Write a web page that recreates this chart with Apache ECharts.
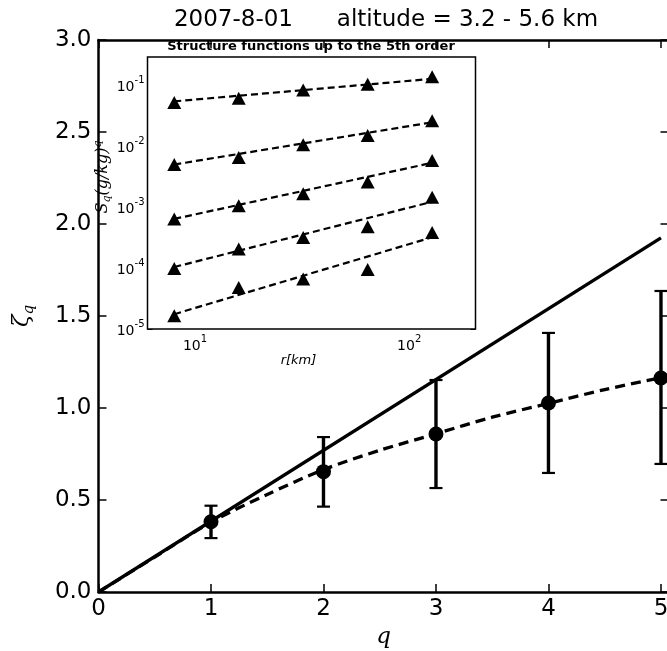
<!DOCTYPE html>
<html><head><meta charset="utf-8">
<script src="https://cdn.jsdelivr.net/npm/echarts@6/dist/echarts.min.js"></script>
<style>html,body{margin:0;padding:0;background:#fff}#c{width:667px;height:651px}</style>
</head><body><div id="c"></div>
<script>
// ---- main panel data ----
const qValues   = [1, 2, 3, 4, 5];
const zetaMean  = [0.382, 0.654, 0.859, 1.027, 1.163];
const zetaLow   = [0.293, 0.464, 0.565, 0.647, 0.696];
const zetaHigh  = [0.469, 0.842, 1.152, 1.408, 1.636];
const linearQ   = [0, 5];
const linearZeta = [0, 1.925];
const modelQ    = [0, 0.5, 1, 1.5, 2, 2.5, 3, 3.5, 4, 4.5, 5];
const modelZeta = [0, 0.19, 0.38, 0.53, 0.665, 0.77, 0.86, 0.95, 1.025, 1.10, 1.165];
const mainXTicks = [0, 1, 2, 3, 4, 5];
const mainYTicks = [0, 0.5, 1.0, 1.5, 2.0, 2.5, 3.0];

// ---- inset data ----
const rKm = [8, 16, 32, 64, 128];
const S1 = [0.052, 0.061, 0.083, 0.104, 0.137];
const S2 = [0.0050, 0.0065, 0.0105, 0.0149, 0.0262];
const S3 = [0.00064, 0.00105, 0.00165, 0.00257, 0.00584];
const S4 = [0.000098, 0.000206, 0.000316, 0.000478, 0.00145];
const S5 = [0.0000165, 0.0000481, 0.0000660, 0.0000950, 0.000382];
const fitR = [8, 128];
const fit1 = [0.0543, 0.127];
const fit2 = [0.0050, 0.0246];
const fit3 = [0.00064, 0.00532];
const fit4 = [0.000104, 0.00122];
const fit5 = [0.0000175, 0.00032];
const insetXMajor = [10, 100];
const insetXMinor = [7, 8, 9, 20, 30, 40, 50, 60, 70, 80, 90, 200];
const insetYMajor = [1e-5, 1e-4, 1e-3, 1e-2, 1e-1];
const insetYMinor = [];
[-5, -4, -3, -2, -1].forEach(e => { for (let m = 2; m <= 9; m++) insetYMinor.push(+(m * Math.pow(10, e)).toPrecision(3)); });

const FONT = 'DejaVu Sans';
const SERIF = 'DejaVu Serif';
const supRich = {
  b: {fontSize: 14, fontFamily: FONT, color: '#000', lineHeight: 19, verticalAlign: 'bottom'},
  s: {fontSize: 10, fontFamily: FONT, color: '#000', lineHeight: 10, verticalAlign: 'top'}
};
const powLabel = v => { const e = Math.round(Math.log10(v)); return '{b|10}{s|' + e + '}'; };

const chart = echarts.init(document.getElementById('c'), null, {renderer: 'canvas'});

function mainAxisCommon() {
  return {
    axisLine: {show: true, onZero: false, lineStyle: {color: '#000', width: 2.5}},
    axisTick: {show: true, inside: true, length: 8, lineStyle: {color: '#000', width: 1.5}},
    splitLine: {show: false}
  };
}
function insetAxis(type, pos, isMajor, labels, extra) {
  const ax = Object.assign({
    type: 'log', gridIndex: 1, position: pos,
    axisLine: {show: false},
    axisTick: {show: true, inside: true, length: isMajor ? 5 : 2.5,
      customValues: isMajor ? (type === 'x' ? insetXMajor : insetYMajor) : (type === 'x' ? insetXMinor : insetYMinor),
      lineStyle: {color: '#000', width: 1}},
    axisLabel: {show: false},
    splitLine: {show: false}
  }, extra);
  if (labels) {
    ax.axisLabel = {show: true, customValues: type === 'x' ? insetXMajor : insetYMajor,
      formatter: powLabel, rich: supRich, margin: type === 'x' ? 5 : 3};
  }
  return ax;
}
const xr = {min: 6, max: 204};
const yr = {min: 1e-5, max: 0.29};

const zip = (a, b) => a.map((v, i) => [v, b[i]]);
const Sall = [S1, S2, S3, S4, S5];
const fits = [fit1, fit2, fit3, fit4, fit5];

const series = [
  {type: 'line', name: 'linear', data: zip(linearQ, linearZeta), xAxisIndex: 0, yAxisIndex: 0,
   symbol: 'none', lineStyle: {color: '#000', width: 3.3}, z: 3},
  {type: 'line', name: 'model', data: zip(modelQ, modelZeta), xAxisIndex: 0, yAxisIndex: 0, smooth: 0.3,
   symbol: 'none', lineStyle: {color: '#000', width: 3.3, type: [10, 6]}, z: 3},
  {type: 'custom', name: 'err', xAxisIndex: 0, yAxisIndex: 0, clip: false, z: 4,
   data: qValues.map((q, i) => [q, zetaLow[i], zetaHigh[i]]),
   encode: {x: 0, y: [1, 2]},
   renderItem: (params, api) => {
     const x = api.value(0);
     const pLo = api.coord([x, api.value(1)]);
     const pHi = api.coord([x, api.value(2)]);
     const hw = 6.5;
     const cap = {stroke: '#000', lineWidth: 2.2};
     return {type: 'group', children: [
       {type: 'line', shape: {x1: pLo[0], y1: pLo[1], x2: pHi[0], y2: pHi[1]}, style: {stroke: '#000', lineWidth: 3.4}},
       {type: 'line', shape: {x1: pLo[0] - hw, y1: pLo[1], x2: pLo[0] + hw, y2: pLo[1]}, style: cap},
       {type: 'line', shape: {x1: pHi[0] - hw, y1: pHi[1], x2: pHi[0] + hw, y2: pHi[1]}, style: cap}
     ]};
   }},
  {type: 'scatter', name: 'zeta', data: zip(qValues, zetaMean), xAxisIndex: 0, yAxisIndex: 0,
   symbol: 'circle', symbolSize: 15, itemStyle: {color: '#000', opacity: 1}, z: 5}
];
fits.forEach((f, i) => {
  series.push({type: 'line', data: zip(fitR, f), xAxisIndex: 2, yAxisIndex: 2, symbol: 'none',
    lineStyle: {color: '#000', width: 2.2, type: [7, 4]}, z: 6});
});
Sall.forEach((s, i) => {
  series.push({type: 'scatter', data: zip(rKm, s), xAxisIndex: 2, yAxisIndex: 2,
    symbol: 'triangle', symbolSize: [14, 13], itemStyle: {color: '#000', opacity: 1}, z: 7});
});

const option = {
  animation: false,
  backgroundColor: '#fff',
  grid: [
    {left: 98.5, top: 40, width: 570, height: 552, outerBoundsMode: 'none', containLabel: false},
    {left: 147.5, top: 57, width: 328, height: 272, show: true, backgroundColor: '#fff',
     borderColor: '#000', borderWidth: 1.5, z: 1, outerBoundsMode: 'none', containLabel: false}
  ],
  xAxis: [
    Object.assign(mainAxisCommon(), {type: 'value', gridIndex: 0, position: 'bottom', min: 0, max: 5.067, interval: 1,
      axisLabel: {fontSize: 23, fontFamily: FONT, color: '#000', margin: 6,
        formatter: v => mainXTicks.includes(v) ? String(v) : ''},
      name: 'q', nameLocation: 'middle', nameGap: 27,
      nameTextStyle: {fontSize: 23, fontFamily: SERIF, fontStyle: 'italic', color: '#000'}}),
    Object.assign(mainAxisCommon(), {type: 'value', gridIndex: 0, position: 'top', min: 0, max: 5.067, interval: 1,
      axisLabel: {show: false}}),
    insetAxis('x', 'bottom', true, true, Object.assign({
      name: 'r[km]', nameLocation: 'middle', nameGap: 19,
      nameTextStyle: {fontSize: 13, fontFamily: FONT, fontStyle: 'italic', color: '#000', padding: [0, 26, 0, 0]}}, xr)),
    insetAxis('x', 'bottom', false, false, xr),
    insetAxis('x', 'top', true, false, xr),
    insetAxis('x', 'top', false, false, xr)
  ],
  yAxis: [
    Object.assign(mainAxisCommon(), {type: 'value', gridIndex: 0, position: 'left', min: 0, max: 3, interval: 0.5,
      axisLabel: {fontSize: 23, fontFamily: FONT, color: '#000', margin: 7,
        formatter: v => mainYTicks.includes(v) ? v.toFixed(1) : ''},
      name: '{z|ζ}{s|q}', nameLocation: 'middle', nameGap: 62, nameRotate: 90,
      nameTextStyle: {rich: {
        z: {fontSize: 23, fontFamily: SERIF, fontStyle: 'italic', color: '#000', lineHeight: 26, verticalAlign: 'top'},
        s: {fontSize: 15, fontFamily: SERIF, fontStyle: 'italic', color: '#000', lineHeight: 26, verticalAlign: 'bottom'}}}}),
    Object.assign(mainAxisCommon(), {type: 'value', gridIndex: 0, position: 'right', min: 0, max: 3, interval: 0.5,
      axisLabel: {show: false}}),
    insetAxis('y', 'left', true, true, Object.assign({
      name: '{t|S}{sb|q}{t|(g/kg)}{sp|q}', nameLocation: 'middle', nameGap: 30, nameRotate: 90,
      nameTextStyle: {padding: [0, 0, 0, 32], rich: {
        t: {fontSize: 16, fontFamily: SERIF, fontStyle: 'italic', color: '#000', lineHeight: 20, verticalAlign: 'middle'},
        sb: {fontSize: 11, fontFamily: SERIF, fontStyle: 'italic', color: '#000', lineHeight: 10, verticalAlign: 'bottom'},
        sp: {fontSize: 11, fontFamily: SERIF, fontStyle: 'italic', color: '#000', lineHeight: 10, verticalAlign: 'top'}}}}, yr)),
    insetAxis('y', 'left', false, false, yr),
    insetAxis('y', 'right', true, false, yr),
    insetAxis('y', 'right', false, false, yr)
  ],
  graphic: [
    {type: 'text', x: 386, y: 20, z: 10, style: {text: '2007-8-01      altitude = 3.2 - 5.6 km',
      fontSize: 23, fontFamily: FONT, fill: '#000', textAlign: 'center', textVerticalAlign: 'middle'}},
    {type: 'text', x: 311, y: 47, z: 10, style: {text: 'Structure functions up to the 5th order',
      fontSize: 13, fontWeight: 'bold', fontFamily: FONT, fill: '#000', textAlign: 'center', textVerticalAlign: 'middle'}}
  ],
  series: series
};
chart.setOption(option);
</script></body></html>
